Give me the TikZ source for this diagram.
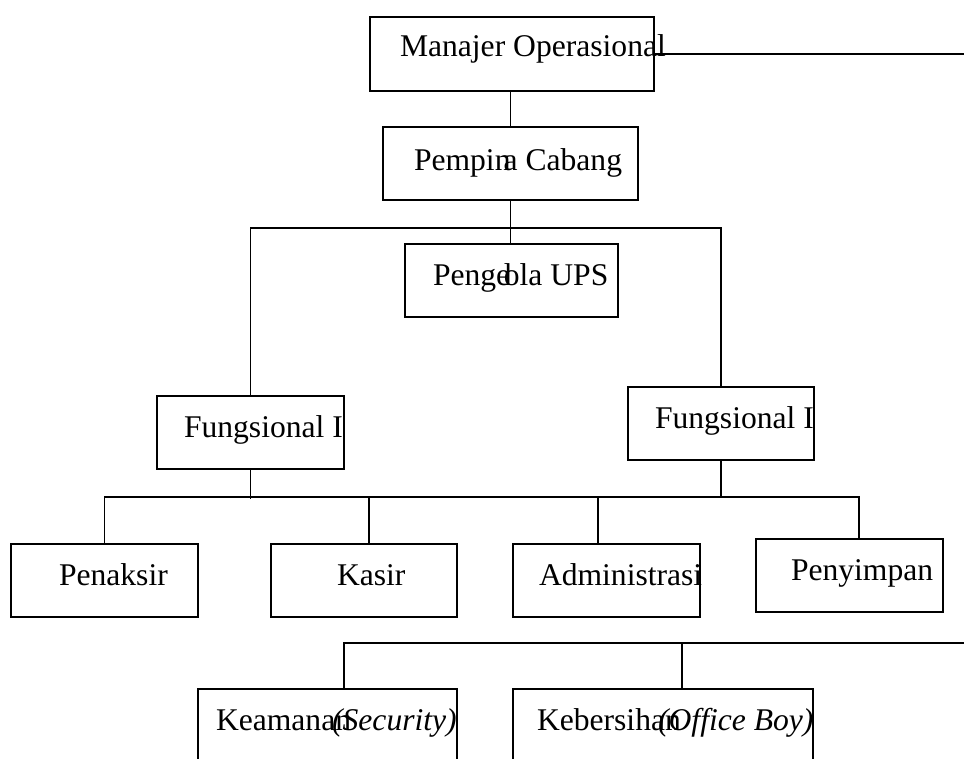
\documentclass[tikz,border=0pt]{standalone}
\usepackage{fontspec}
\setmainfont{Liberation Serif}
\tikzset{
  unit/.style = {draw, line width=1.8pt, inner sep=0pt, outer sep=0pt},
  unitlabel/.style = {anchor=base west, inner sep=0pt, outer sep=0pt,
    font=\fontsize{31.6pt}{38pt}\selectfont},
  link/.style = {line width=1.5pt}
}
\newcommand{\unitbox}[8]{%
% name, left, top, right, bottom, text x, text baseline, text
  \pgfmathsetmacro{\bxw}{#4-#2}
  \pgfmathsetmacro{\bxh}{#5-#3}
  \node[unit, minimum width=\bxw pt, minimum height=\bxh pt]
    (#1) at ({(#2+#4)/2},{(#3+#5)/2}) {};
  \node[unitlabel] (#1-label) at (#6,#7) {#8};
}

\begin{document}
\begin{tikzpicture}[x=1pt,y=-1pt]
  \useasboundingbox (0,0) rectangle (964,758);
  \clip (0,0) rectangle (964,758);

  % pimpinan
  \unitbox{mo}{370}{17}{654}{91}{400}{56}{Manajer Operasional}
  \unitbox{pc}{383}{127}{638}{200}{414}{170}{Pempin\kern-.22em a Cabang}
  \unitbox{pu}{405}{244}{618}{317}{433}{285}{Penge\kern-.2em l\kern-.28em ola UPS}
  \unitbox{fa}{157}{396}{344}{469}{184}{437}{Fungsional I}
  \unitbox{fb}{628}{387}{814}{460}{655}{428}{Fungsional I}

  % pelaksana
  \unitbox{pk}{11}{544}{198}{617}{59}{585}{Penaksir}
  \unitbox{ks}{271}{544}{457}{617}{337}{585}{Kasir}
  \unitbox{ad}{513}{544}{700}{617}{539}{585}{Administrasi}
  \unitbox{py}{756}{539}{943}{612}{791}{580}{Penyimpan}

  % pendukung
  \unitbox{km}{198}{689}{457}{765}{216}{730}{Keamanan\kern-.6em\textit{(Security)}}
  \unitbox{kb}{513}{689}{813}{765}{537}{730}{Kebersihan\kern-.72em\textit{(Office Boy)}}

  \coordinate (edgeR) at (964,55);
  \coordinate (barA) at (514,228);
  \coordinate (barB) at (480,497);
  \coordinate (barC) at (964,643);

  \draw[link] (mo.east) -- (mo.east -| edgeR);
  \draw[link] (mo.south -| pc.north) -- (pc.north);
  \draw[link] (pc.south) -- (pc.south |- pu.north);
  \draw[link] (fa.north) |- (barA) -| (fb.north);
  \draw[link] (fa.south) -- ([yshift=-2pt]fa.south |- barB);
  \draw[link] (fb.south) -- (fb.south |- barB);
  \draw[link] (pk.north) |- (barB) -| ([xshift=9.5pt]py.north);
  \draw[link] ([xshift=5pt]ks.north) -- ([xshift=5pt]ks.north |- barB);
  \draw[link] ([xshift=-8.5pt]ad.north) -- ([xshift=-8.5pt]ad.north |- barB);
  \draw[link] ([xshift=16.5pt]km.north) |- (barC);
  \draw[link] ([xshift=19pt]kb.north) -- ([xshift=19pt]kb.north |- barC);
\end{tikzpicture}
\end{document}
